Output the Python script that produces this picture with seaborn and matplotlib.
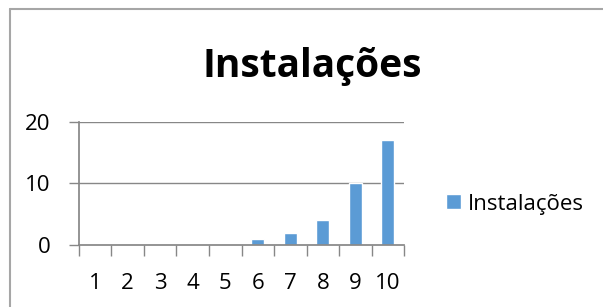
import matplotlib
matplotlib.use("Agg")
import matplotlib.pyplot as plt
import pandas as pd
import seaborn as sns
from matplotlib.lines import Line2D

categories = ["1", "2", "3", "4", "5", "6", "7", "8", "9", "10"]
installs = [0, 0, 0, 0, 0, 1, 2, 4, 10, 17]
series_name = "Instalações"
y_ticks = [0, 10, 20]

df = pd.DataFrame({"cat": categories, "val": installs})

sns.set_theme(style="white")
plt.rcParams["font.family"] = ["Open Sans", "DejaVu Sans"]
plt.rcParams["text.color"] = "black"
plt.rcParams["xtick.color"] = "black"
plt.rcParams["ytick.color"] = "black"

fig = plt.figure(figsize=(6.03, 3.07), dpi=100)
ax = fig.add_axes([0.131, 0.202, 0.539, 0.401])

sns.barplot(data=df, x="cat", y="val", color="#5B9BD5", saturation=1,
            width=0.4, label=series_name, ax=ax)

ax.set_xlim(-0.5, 9.5)
ax.set_ylim(0, 20)
ax.set_yticks(y_ticks)
ax.set_xlabel("")
ax.set_ylabel("")

# gridlines like excel
for v in y_ticks[1:]:
    ax.axhline(v, color="#878787", lw=1, zorder=0)

for s in ["top", "right"]:
    ax.spines[s].set_visible(False)
ax.spines["left"].set_color("#878787")
ax.spines["bottom"].set_color("#878787")

ax.set_xticks(range(len(categories)))
ax.set_xticklabels(categories)
ax.set_xticks([i - 0.5 for i in range(len(categories) + 1)], minor=True)
ax.tick_params(axis="x", which="minor", length=8, color="#878787", width=1, bottom=True)
ax.tick_params(axis="x", which="major", length=0, labelsize=16, labelcolor="black")
ax.tick_params(axis="y", which="major", length=7, color="#878787", width=1, left=True,
               pad=13.5, labelsize=16, labelcolor="black")
for t in ax.xaxis.get_major_ticks():
    t.set_pad(20)

fig.text(0.518, 0.749, series_name, ha="center", va="baseline",
         fontsize=28, fontweight="bold", color="black")

leg = ax.legend(loc="center left", bbox_to_anchor=(0.725, 0.335), bbox_transform=fig.transFigure,
                frameon=False, fontsize=16, handlelength=0.65, handleheight=0.65,
                handletextpad=0.35, borderaxespad=0)
for txt in leg.get_texts():
    txt.set_color("black")

# chart border (only left and top visible in the crop)
fig.add_artist(Line2D([0.017, 0.017], [0, 0.97], transform=fig.transFigure,
                      color="#A6A6A6", lw=1.5))
fig.add_artist(Line2D([0.017, 1], [0.97, 0.97], transform=fig.transFigure,
                      color="#A6A6A6", lw=1.5))

fig.savefig("out.png", dpi=100)
